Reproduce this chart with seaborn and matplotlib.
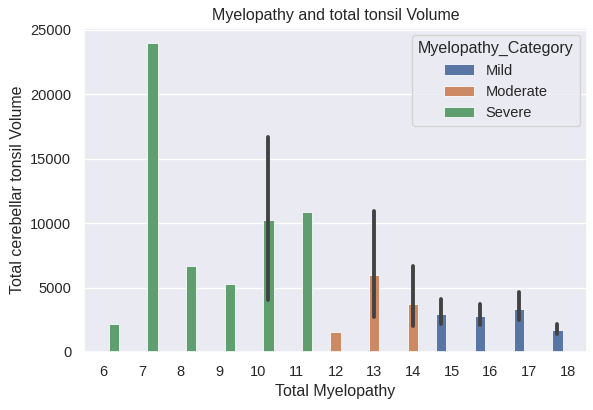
import numpy as np
import pandas as pd
import matplotlib
matplotlib.use('Agg')
import matplotlib.pyplot as plt
import seaborn as sns

totals = [6, 7, 8, 9, 10, 11, 12, 13, 14, 15, 16, 17, 18]
categories = ['Severe', 'Severe', 'Severe', 'Severe', 'Severe', 'Severe',
              'Moderate', 'Moderate', 'Moderate',
              'Mild', 'Mild', 'Mild', 'Mild']
volumes = [
    [2200],
    [23950],
    [6700],
    [5300],
    [4000, 9990, 16700],
    [10850],
    [1580],
    [2700, 4350, 10950],
    [2000, 2450, 6650],
    [2200, 2640, 4100],
    [2070, 2510, 3760],
    [2460, 2890, 4670],
    [1370, 1500, 2200],
]
hue_order = ['Mild', 'Moderate', 'Severe']

rows = []
for t, c, vals in zip(totals, categories, volumes):
    for v in vals:
        rows.append({'Total Myelopathy': t, 'Myelopathy_Category': c,
                     'Total cerebellar tonsil Volume': v})
df = pd.DataFrame(rows)


def spread(v):
    if len(v) < 2:
        return (np.nan, np.nan)
    return (v.min(), v.max())


sns.set_theme(style='darkgrid')
plt.rcParams['font.family'] = ['Liberation Sans', 'DejaVu Sans']

fig, ax = plt.subplots(figsize=(593 / 96, 410 / 96), dpi=96)
sns.barplot(data=df, x='Total Myelopathy', y='Total cerebellar tonsil Volume',
            hue='Myelopathy_Category', hue_order=hue_order, dodge=True,
            errorbar=spread, ax=ax, linewidth=0.6,
            err_kws={'linewidth': 2.9, 'solid_capstyle': 'round', 'color': '.26'})
ax.set_title('Myelopathy and total tonsil Volume')
ax.legend(title='Myelopathy_Category', loc='upper right')
fig.subplots_adjust(left=0.1417, right=0.99, top=0.932, bottom=0.1415)
fig.savefig('out.png', dpi=96)
